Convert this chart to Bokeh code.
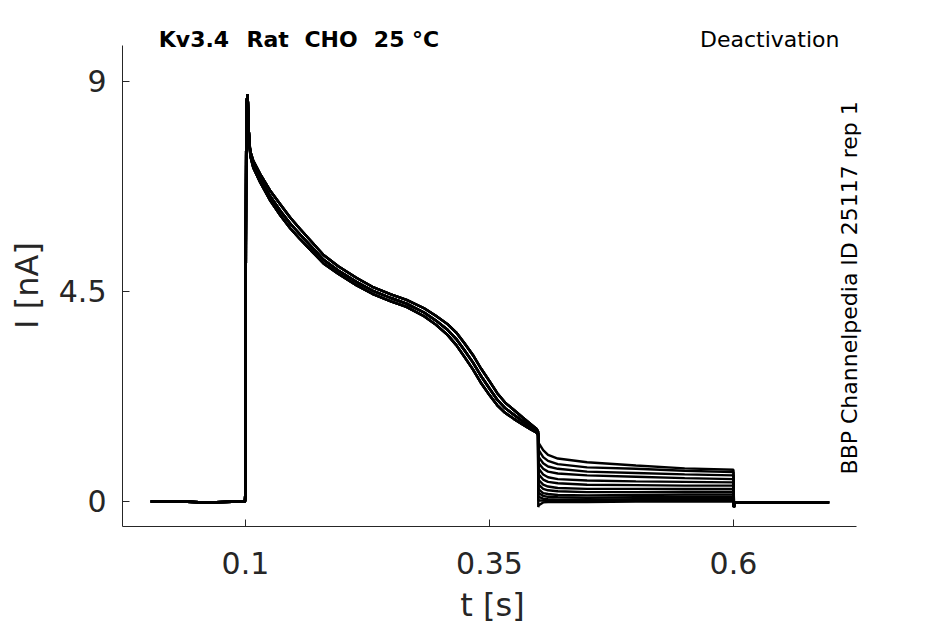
from bokeh.plotting import figure
from bokeh.models import FixedTicker, Label, Range1d
from bokeh.layouts import row
from bokeh.embed import file_html
from bokeh.resources import INLINE
import math

# ---- data ----
# activation phase (holding at 0, step at 0.1 s, decay until 0.4 s), three edges of the bundle
ACT_T = [0.003, 0.03, 0.06, 0.0995, 0.1, 0.1004, 0.1008, 0.1015, 0.102, 0.1025, 0.103, 0.104,
         0.105, 0.108, 0.115, 0.125, 0.136, 0.146, 0.156, 0.168, 0.18, 0.195, 0.214, 0.23,
         0.249, 0.265, 0.283, 0.295, 0.307, 0.316, 0.324, 0.333, 0.341, 0.35, 0.358, 0.366,
         0.375, 0.384, 0.392, 0.398, 0.3998]
ACT_MID = [0.0, 0.0, -0.02, 0.0, 0.3, 5.5, 8.1, 8.6, 8.72, 8.55, 8.1, 7.7,
           7.45, 7.22, 6.92, 6.55, 6.22, 5.95, 5.72, 5.45, 5.18, 4.95, 4.70, 4.52,
           4.36, 4.24, 4.05, 3.88, 3.68, 3.48, 3.25, 2.98, 2.70, 2.42, 2.18, 2.00,
           1.86, 1.72, 1.60, 1.52, 1.46]
ACT_HIGH = [0.0, 0.0, -0.02, 0.0, 0.3, 5.5, 8.1, 8.6, 8.72, 8.55, 8.1, 7.7,
            7.50, 7.30, 7.02, 6.67, 6.36, 6.08, 5.84, 5.56, 5.28, 5.04, 4.79, 4.60,
            4.44, 4.32, 4.14, 3.98, 3.80, 3.62, 3.40, 3.14, 2.86, 2.58, 2.32, 2.12,
            1.96, 1.80, 1.66, 1.56, 1.50]
ACT_LOW = [0.0, 0.0, -0.02, 0.0, 0.3, 5.5, 8.1, 8.6, 8.72, 8.55, 8.1, 7.7,
           7.40, 7.15, 6.84, 6.46, 6.12, 5.85, 5.62, 5.36, 5.10, 4.88, 4.63, 4.45,
           4.29, 4.17, 3.97, 3.79, 3.57, 3.35, 3.11, 2.83, 2.55, 2.28, 2.06, 1.90,
           1.77, 1.65, 1.55, 1.48, 1.42]

# tail (deactivation) phase 0.4 .. 0.6 s, one row per sweep
TAIL_T = [0.4, 0.4005, 0.405, 0.41, 0.42, 0.45, 0.5, 0.55, 0.6]
TAILS = [
    [1.30, 1.25, 1.10, 1.00, 0.92, 0.84, 0.77, 0.71, 0.68],
    [1.20, 1.10, 0.95, 0.87, 0.80, 0.73, 0.70, 0.66, 0.63],
    [1.05, 0.95, 0.82, 0.75, 0.70, 0.64, 0.61, 0.58, 0.56],
    [0.90, 0.82, 0.70, 0.64, 0.60, 0.56, 0.53, 0.50, 0.48],
    [0.78, 0.70, 0.58, 0.52, 0.48, 0.45, 0.43, 0.42, 0.41],
    [0.65, 0.58, 0.47, 0.42, 0.39, 0.36, 0.35, 0.34, 0.34],
    [0.52, 0.46, 0.36, 0.32, 0.29, 0.27, 0.27, 0.27, 0.27],
    [0.40, 0.36, 0.27, 0.24, 0.22, 0.20, 0.20, 0.21, 0.21],
    [0.30, 0.26, 0.18, 0.16, 0.14, 0.13, 0.14, 0.15, 0.15],
    [0.20, 0.18, 0.12, 0.10, 0.09, 0.08, 0.09, 0.10, 0.10],
    [0.12, 0.10, 0.06, 0.05, 0.04, 0.04, 0.05, 0.06, 0.06],
    [0.04, 0.02, 0.02, 0.02, 0.01, 0.01, 0.02, 0.02, 0.02],
    [-0.12, -0.08, -0.02, -0.01, -0.01, -0.01, 0.00, 0.00, 0.00],
]
# back to holding after 0.6 s
POST_T = [0.6005, 0.601, 0.65, 0.698]
POST_I = [-0.12, -0.02, -0.02, -0.02]

X_TICKS = [0.1, 0.35, 0.6]
X_LABELS = ["0.1", "0.35", "0.6"]
Y_TICKS = [0, 4.5, 9]
Y_LABELS = ["0", "4.5", "9"]

TITLE_WORDS = ["Kv3.4", "Rat", "CHO", "25 °C"]
TITLE_X = [0.0112, 0.1010, 0.1604, 0.2315]

FONT = "DejaVu Sans"
INK = "#262626"

X_AXIS_SPAN = (-0.026, 0.726)
Y_AXIS_SPAN = (-0.536, 9.77)

# ---- narrow strip on the left carrying the y-axis title ----
ystrip = figure(frame_width=45, frame_height=526, min_border=0,
                x_range=Range1d(0, 45), y_range=Range1d(0, 526),
                x_axis_location=None, y_axis_location=None,
                output_backend="svg", toolbar_location=None)
ystrip.grid.visible = False
ystrip.outline_line_color = None
ystrip.border_fill_color = "white"
ystrip.add_layout(Label(x=26, y=261, text="I [nA]", text_font=FONT, text_font_size="32px",
                        text_color=INK, angle=math.pi / 2,
                        text_align="center", text_baseline="middle"))

# ---- main plot ----
p = figure(frame_width=740, frame_height=506, min_border_left=77, min_border_right=20,
           min_border_top=20, min_border_bottom=0,
           x_range=Range1d(-0.026, 0.7322), y_range=Range1d(-0.536, 10.306),
           output_backend="svg", toolbar_location=None)

p.grid.visible = False
p.outline_line_color = None
p.background_fill_color = "white"
p.border_fill_color = "white"

acts = [ACT_MID, ACT_HIGH, ACT_LOW]
for k, tail in enumerate(TAILS):
    xs = ACT_T + TAIL_T + POST_T
    ys = acts[k % 3] + tail + POST_I
    p.line(xs, ys, line_color="black", line_width=2.4)

for ax, ticks, labels, span in ((p.xaxis[0], X_TICKS, X_LABELS, X_AXIS_SPAN),
                                (p.yaxis[0], Y_TICKS, Y_LABELS, Y_AXIS_SPAN)):
    ax.bounds = span
    ax.ticker = FixedTicker(ticks=ticks)
    ax.major_label_overrides = {t: l for t, l in zip(ticks, labels)}
    ax.major_tick_in = 7
    ax.major_tick_out = 0
    ax.minor_tick_line_color = None
    ax.axis_line_color = INK
    ax.major_tick_line_color = INK
    ax.major_label_text_font = FONT
    ax.major_label_text_font_size = "30px"
    ax.major_label_text_color = INK
    ax.axis_label_text_font = FONT
    ax.axis_label_text_font_size = "32px"
    ax.axis_label_text_font_style = "normal"
    ax.axis_label_text_color = INK

p.xaxis.axis_label = "t [s]"
p.xaxis.major_label_standoff = 25
p.xaxis.axis_label_standoff = 9
p.yaxis.major_label_standoff = 16
p.yaxis.major_label_orientation = "horizontal"

for word, wx in zip(TITLE_WORDS, TITLE_X):
    p.add_layout(Label(x=wx, y=9.9, text=word, text_font=FONT,
                       text_font_size="22px", text_font_style="bold", text_color="black",
                       text_align="left", text_baseline="alphabetic"))
p.add_layout(Label(x=0.7086, y=9.9, text="Deactivation", text_font=FONT,
                   text_font_size="22px", text_color="black",
                   text_align="right", text_baseline="alphabetic"))
p.add_layout(Label(x=0.7189, y=0.579, text="BBP Channelpedia ID 25117 rep 1", text_font=FONT,
                   text_font_size="22px", text_color="black", angle=math.pi / 2,
                   text_align="left", text_baseline="alphabetic"))

layout = row(ystrip, p, spacing=0)
open("out.html", "w").write(file_html(layout, INLINE))
